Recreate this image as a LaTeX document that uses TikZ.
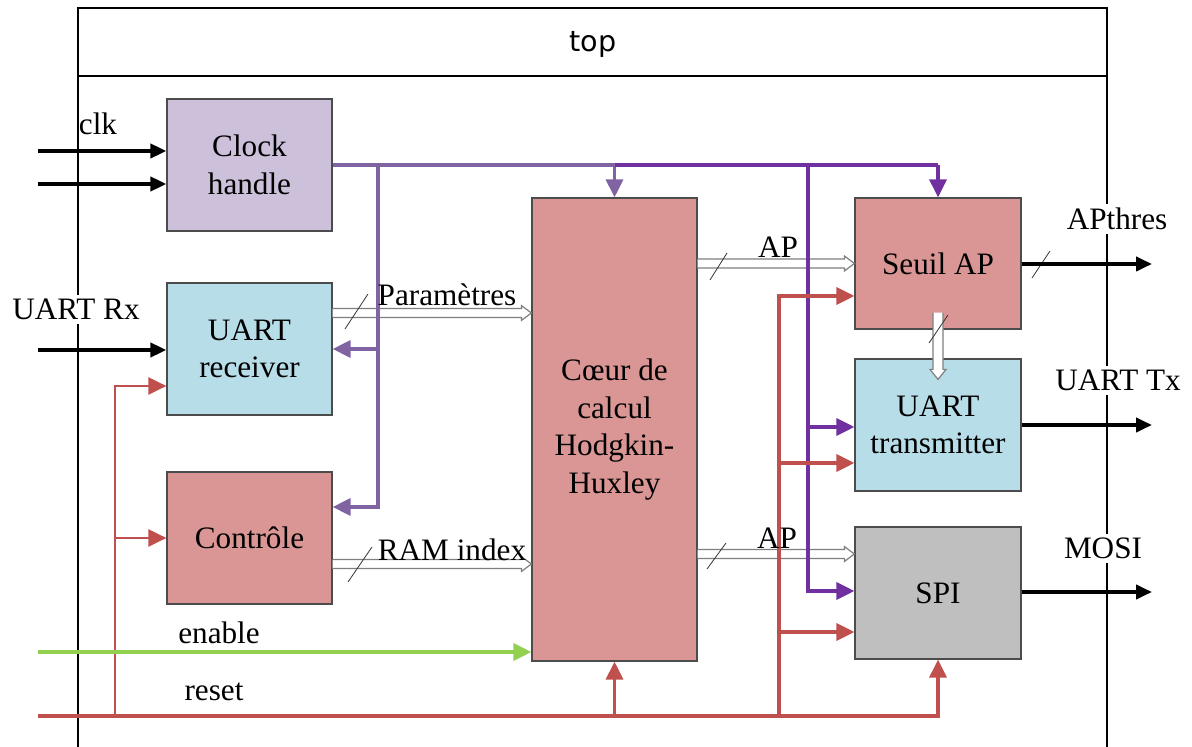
\documentclass[tikz,border=0pt]{standalone}
\usepackage{fontspec}
\setmainfont{Liberation Serif}
\newfontfamily\topfont{DejaVu Sans}
\usetikzlibrary{arrows.meta,calc}
\definecolor{plight}{HTML}{8064A2}
\definecolor{pdark}{HTML}{7030A0}
\definecolor{rred}{HTML}{C0504D}
\definecolor{egreen}{HTML}{92D050}
\definecolor{fclock}{HTML}{CCC0DA}
\definecolor{fblue}{HTML}{B7DDE8}
\definecolor{fsalmon}{HTML}{D99694}
\definecolor{fgray}{HTML}{BFBFBF}
\definecolor{hgray}{HTML}{7F7F7F}
\newcommand{\hollowH}[2]{\draw[hollow] ($(#1)+(0,-4.5)$) -- ($(#2)+(-10,-4.5)$) -- ($(#2)+(-10,-7.5)$) -- (#2) -- ($(#2)+(-10,7.5)$) -- ($(#2)+(-10,4.5)$) -- ($(#1)+(0,4.5)$);}
\newcommand{\hollowV}[2]{\draw[hollow] ($(#1)+(-5,0)$) -- ($(#2)+(-5,-10)$) -- ($(#2)+(-8,-10)$) -- (#2) -- ($(#2)+(8,-10)$) -- ($(#2)+(5,-10)$) -- ($(#1)+(5,0)$);}
\tikzset{
  blk/.style={draw=black!70, line width=0.6pt, align=center, inner sep=0pt,
    minimum width=82.5pt, minimum height=66pt, font=\fontsize{15.6}{18.7}\selectfont},
  lbl/.style={anchor=base, inner sep=1pt, font=\fontsize{15.6}{18.7}\selectfont},
  wlbl/.style={lbl, fill=white, inner sep=2pt},
  tip/.style={-{Triangle[length=8pt,width=7pt]}},
  ctip/.style={-{Triangle[length=9pt,width=8.5pt]}},
  blkline/.style={line width=1.9pt, black, tip},
  pl/.style={line width=1.6pt, plight},
  pd/.style={line width=1.6pt, pdark},
  rl/.style={line width=1.6pt, rred},
  rthin/.style={line width=1.2pt, rred},
  gl/.style={line width=1.6pt, egreen},
  hollow/.style={draw=hgray, fill=white, line width=0.6pt, line join=miter},
  slash/.style={draw=black!80, line width=0.4pt},
  frame/.style={line width=1.1pt, black}
}
\begin{document}
\begin{tikzpicture}[x=0.5pt,y=-0.5pt]
\useasboundingbox (0,0) rectangle (1192,747);
% frame
\draw[frame] (78,747) -- (78,8) -- (1107,8) -- (1107,747);
\draw[frame] (78,76) -- (1107,76);
\node[anchor=base, font=\topfont\fontsize{14.3}{17}\selectfont] (top) at (593,52) {top};

% blocks
\node[blk, fill=fclock] (clock) at (249.5,165) {Clock\\handle};
\node[blk, fill=fblue] (urx) at (249.5,349) {UART\\receiver};
\node[blk, fill=fsalmon] (ctrl) at (249.5,538) {Contrôle};
\node[blk, fill=fsalmon, minimum height=231.5pt] (core) at (614.5,429.5) {Cœur de\\calcul\\Hodgkin-\\Huxley};
\node[blk, fill=fsalmon, minimum width=83pt, minimum height=65.5pt] (seuil) at (938,263.5) {Seuil AP};
\node[blk, fill=fblue, minimum width=83pt] (utx) at (938,425) {UART\\transmitter};
\node[blk, fill=fgray, minimum width=83pt] (spi) at (938,593) {SPI};

% hollow buses
\hollowH{urx.east |- 0,313}{core.west |- 0,313}
\hollowH{ctrl.east |- 0,564}{core.west |- 0,564}
\hollowH{core.east |- 0,263.5}{seuil.west |- 0,263.5}
\hollowH{core.east |- 0,554}{spi.west |- 0,554}
\hollowV{$(seuil.south)+(0,-17)$}{$(utx.north)+(0,21)$}
\draw[slash] (345,329) -- (368,294);
\draw[slash] (348,582) -- (372,547);
\draw[slash] (710,280) -- (727,253);
\draw[slash] (707,569) -- (726,543);
\draw[slash] (929,343) -- (948,315);
\draw[slash] (1032,278) -- (1050,251);

% coordinates
\coordinate (in1) at (38,151);
\coordinate (in2) at (38,184);
\coordinate (in3) at (38,350);
\coordinate (j1) at (378,165);
\coordinate (j2) at (614.5,165);
\coordinate (j3) at (808,165);
\coordinate (j4) at (938,165);
\coordinate (rs) at (38,716);
\coordinate (r1) at (115,716);
\coordinate (r2) at (614.5,716);
\coordinate (r3) at (779,716);
\coordinate (en) at (38,652);
\coordinate (o1) at (1152,264);
\coordinate (o2) at (1152,425);
\coordinate (o3) at (1152,592);

% black inputs / outputs
\draw[blkline] (in1) -- (clock.west |- in1);
\draw[blkline] (in2) -- (clock.west |- in2);
\draw[blkline] (in3) -- (urx.west |- in3);
\draw[blkline] (seuil.east |- o1) -- (o1);
\draw[blkline] (utx.east |- o2) -- (o2);
\draw[blkline] (spi.east |- o3) -- (o3);

% clock distribution
\draw[pl] (clock.east |- j1) -- (j2);
\draw[pl, ctip] (j2) -- (core.north);
\draw[pl, ctip] (j1) |- (urx.east);
\draw[pl, ctip] (j1) |- (ctrl.east |- 0,507);
\draw[pd] (j2) -- (j4);
\draw[pd, ctip] (j4) -- (seuil.north);
\draw[pd, ctip] (j3) |- (utx.west |- 0,427);
\draw[pd, ctip] (j3) |- (spi.west |- 0,591);

% reset distribution
\draw[rl, ctip] (rs) -| (spi.south);
\draw[rl, ctip] (r2) -- (core.south);
\draw[rthin, ctip] (r1) |- (urx.west |- 0,386);
\draw[rthin, ctip] (r1) |- (ctrl.west);
\draw[rl, ctip] (r3) |- (seuil.west |- 0,296);
\draw[rl, ctip] (r3) |- (utx.west |- 0,463);
\draw[rl, ctip] (r3) |- (spi.west |- 0,632);

% enable
\draw[gl, ctip] (en) -- (core.west |- en);

% labels
\node[lbl] (lclk) at (98,135) {clk};
\node[wlbl] (lurx) at (76,320) {UART Rx};
\node[lbl] (lpar) at (447,306) {Paramètres};
\node[lbl] (lram) at (452,560) {RAM index};
\node[lbl] (lap1) at (778,258) {AP};
\node[lbl] (lap2) at (777,548) {AP};
\node[wlbl] (lapt) at (1117,230) {APthres};
\node[wlbl] (lutx) at (1118,391) {UART Tx};
\node[wlbl] (lmosi) at (1103,559) {MOSI};
\node[lbl] (len) at (219,643) {enable};
\node[lbl] (lrst) at (214,700) {reset};
\end{tikzpicture}
\end{document}
